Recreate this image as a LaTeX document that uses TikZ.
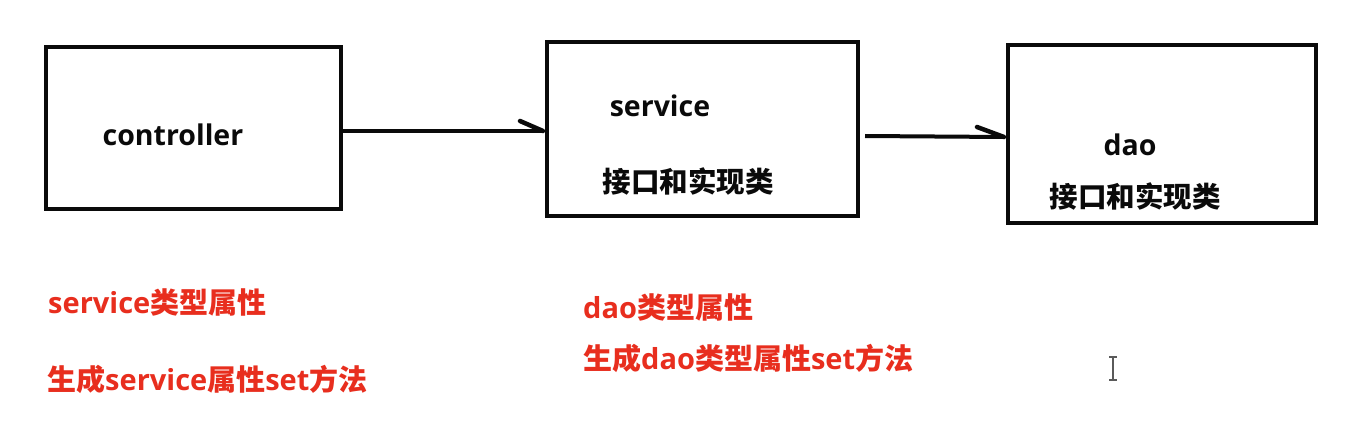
\documentclass[tikz,border=0pt]{standalone}
\usepackage{fontspec}
\setmainfont{Open Sans}
\newfontfamily\cjk{Noto Sans CJK SC}
\definecolor{txtred}{RGB}{232,46,30}
\definecolor{ink}{RGB}{10,10,10}
\definecolor{cursorgray}{RGB}{90,90,90}
\tikzset{
  box/.style={draw=ink, line width=4pt, inner sep=0pt, fill=none},
  conn/.style={draw=ink, line width=4pt},
  barb/.style={draw=ink, line width=4.5pt, line cap=round},
  lbl/.style={text=ink, font=\bfseries\fontsize{28.5}{32}\selectfont, inner sep=0pt},
  zh/.style={text=ink, font=\cjk\bfseries\fontsize{28.5}{32}\selectfont, inner sep=0pt},
  redtxt/.style={text=txtred, font=\bfseries\fontsize{29}{33}\selectfont, inner sep=0pt, anchor=west},
}
\begin{document}
\begin{tikzpicture}[x=1pt,y=-1pt]
\useasboundingbox[fill=white] (0,0) rectangle (1362,433);
% boxes
\node[box, minimum width=295pt, minimum height=162pt] (ctrl) at (193.5,128) {};
\node[box, minimum width=311pt, minimum height=174pt] (svc) at (702.5,129) {};
\node[box, minimum width=308pt, minimum height=178pt] (dao) at (1162,134) {};
% box texts
\node[lbl] (ctrlname) at (173,135) {controller};
\node[lbl] (svcname) at (660,106) {service};
\node[zh] (svcimpl) at (688,181) {接口和实现类};
\node[lbl] (daoname) at (1130,145) {dao};
\node[zh] (daoimpl) at (1135,196) {接口和实现类};
% connectors
\coordinate (t1) at (543,131);
\coordinate (b1) at (520,121);
\draw[conn] (ctrl.east |- t1) -- (t1);
\draw[barb] (t1) -- (b1);
\coordinate (s2) at (865,136);
\coordinate (t2) at (1004,137);
\coordinate (b2) at (977,127);
\draw[conn] (s2) -- (t2);
\draw[barb] (t2) -- (b2);
% red notes
\node[redtxt] (n1) at (48,302) {service{\cjk 类型属性}};
\node[redtxt] (n2) at (47,379) {{\cjk 生成}service{\cjk 属性}set{\cjk 方法}};
\node[redtxt] (n3) at (583,307) {dao{\cjk 类型属性}};
\node[redtxt] (n4) at (583,358) {{\cjk 生成}dao{\cjk 类型属性}set{\cjk 方法}};
% text cursor
\draw[cursorgray, line width=1.5pt] (1113,357) -- (1113,380);
\draw[cursorgray, line width=1.5pt] (1109,357) -- (1117,357);
\draw[cursorgray, line width=1.5pt] (1109,380) -- (1117,380);
\end{tikzpicture}
\end{document}
